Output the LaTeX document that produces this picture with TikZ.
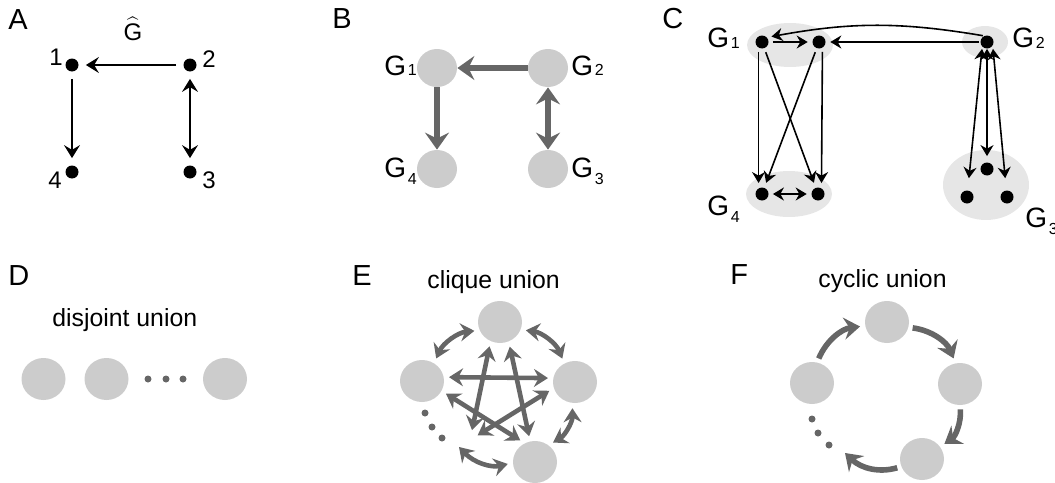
\documentclass[tikz,border=0pt]{standalone}
\usepackage{fontspec}
\setmainfont{Liberation Sans}
\usetikzlibrary{arrows.meta,shapes.geometric}
\definecolor{blobgray}{HTML}{CCCCCC}
\definecolor{palegray}{HTML}{E6E6E6}
\definecolor{arrowgray}{HTML}{666666}
\newcommand{\gsub}[2][0.5pt]{G\kern0.8pt\raisebox{-#1}{\fontsize{8}{9}\selectfont#2}}
\tikzset{
  panel/.style={anchor=base west,inner sep=0pt,font=\fontsize{14.5}{16}\selectfont},
  title/.style={anchor=base west,inner sep=0pt,font=\fontsize{12.4}{14}\selectfont},
  lab/.style={anchor=base,inner sep=0pt,font=\fontsize{12}{14}\selectfont},
  glabel/.style={anchor=base west,inner sep=0pt,font=\fontsize{14}{16}\selectfont},
  dot/.style={circle,fill=black,inner sep=0pt,minimum size=6.5pt},
  smalldot/.style={circle,fill=arrowgray,inner sep=0pt,minimum size=3.5pt},
  blob/.style={ellipse,fill=blobgray,inner sep=0pt,minimum width=22pt,minimum height=21pt},
  bblob/.style={ellipse,fill=blobgray,inner sep=0pt,minimum width=20pt,minimum height=19pt},
  paleblob/.style={ellipse,fill=palegray,inner sep=0pt},
  tharrow/.style={line width=0.8pt,shorten <=3.5pt,shorten >=3.5pt,>={Stealth[length=6.5pt,width=8pt,inset=2.4pt]}},
  carrow/.style={line width=0.8pt,shorten <=2pt,shorten >=2.2pt,>={Stealth[length=5.5pt,width=6.5pt,inset=1.8pt]}},
  bigarrow/.style={line width=3pt,draw=arrowgray,>={Stealth[length=8.5pt,width=12pt,inset=3pt]}},
  starrow/.style={line width=2.3pt,draw=arrowgray,shorten <=2.5pt,shorten >=2.5pt,>={Stealth[length=7pt,width=9pt,inset=2.4pt]}},
  cycarrow/.style={line width=2.8pt,draw=arrowgray,shorten <=2pt,shorten >=2.5pt,>={Stealth[length=8pt,width=11pt,inset=2.8pt]}}
}
\begin{document}
\begin{tikzpicture}[x=0.5pt,y=-0.5pt]
\useasboundingbox (0,0) rectangle (1055,482);

\node[panel] (pa) at (8,29) {A};
\node[dot] (a1) at (72,65) {};
\node[dot] (a2) at (190,65) {};
\node[dot] (a3) at (190,172) {};
\node[dot] (a4) at (72,172) {};
\node[lab] (ghat) at (133,40) {$\widehat{\mbox{G}}$};
\node[lab] (n1) at (56,65) {1};
\node[lab] (n2) at (209,67) {2};
\node[lab] (n3) at (209,188) {3};
\node[lab] (n4) at (55,188) {4};
\draw[tharrow,->] (a2) -- (a1);
\draw[tharrow,->] (a1) -- (a4);
\draw[tharrow,<->] (a2) -- (a3);

\node[panel] (pb) at (332,28) {B};
\node[bblob] (b1) at (437,68) {};
\node[bblob] (b2) at (548,68) {};
\node[bblob] (b3) at (548,169) {};
\node[bblob] (b4) at (437,169) {};
\node[glabel] (gb1) at (384,75) {\gsub{1}};
\node[glabel] (gb2) at (571,75) {\gsub{2}};
\node[glabel] (gb3) at (571,177) {\gsub[3.5pt]{3}};
\node[glabel] (gb4) at (384,177) {\gsub[3.5pt]{4}};
\draw[bigarrow,->] (b2) -- (b1);
\draw[bigarrow,->] (b1) -- (b4);
\draw[bigarrow,<->] (b2) -- (b3);

\node[panel] (pc) at (662,28) {C};
\node[paleblob,minimum width=43pt,minimum height=22pt] (c1) at (790,45) {};
\node[paleblob,minimum width=23pt,minimum height=16pt] (c2) at (985,42) {};
\node[paleblob,minimum width=43pt,minimum height=35pt] (c3) at (986,185) {};
\node[paleblob,minimum width=43pt,minimum height=23pt] (c4) at (789,194) {};
\node[dot] (c1a) at (762,42) {};
\node[dot] (c1b) at (819,42) {};
\node[dot] (c2a) at (987,42) {};
\node[dot] (c3t) at (987,169) {};
\node[dot] (c3a) at (967,197) {};
\node[dot] (c3b) at (1007,197) {};
\node[dot] (c4a) at (762,194) {};
\node[dot] (c4b) at (818,194) {};
\node[glabel] (gc1) at (707,47) {\gsub{1}};
\node[glabel] (gc2) at (1012,47) {\gsub{2}};
\node[glabel] (gc3) at (1025,227) {\gsub[3.5pt]{3}};
\node[glabel] (gc4) at (707,215) {\gsub[3.5pt]{4}};
\draw[carrow,->] (c1a) -- (c1b);
\draw[carrow,->,shorten <=0.5pt] (c2a) -- (c1b);
\draw[carrow,->,shorten <=0.5pt] (c2a.117) to[bend right=10] (c1a.42);
\draw[carrow,->,shorten >=2.5pt] (c1a.240) -- (c4a.120);
\draw[carrow,->,shorten >=2.5pt] (c1a.290) -- (c4b.110);
\draw[carrow,->,shorten >=2.5pt] (c1b.250) -- (c4a.70);
\draw[carrow,->,shorten >=2.5pt] (c1b.300) -- (c4b.60);
\draw[carrow,<->] (c4a) -- (c4b);
\draw[carrow,<->,shorten <=0pt,shorten >=6pt] ([xshift=-2.5pt]c2a.south) -- (c3a);
\draw[carrow,<->,shorten <=0pt,shorten >=3pt] (c2a.south) -- (c3t);
\draw[carrow,<->,shorten <=0pt,shorten >=6pt] ([xshift=3pt]c2a.south) -- (c3b);

\node[panel] (pd) at (8,285) {D};
\node[title] (td) at (52,326) {disjoint union};
\node[blob] (d1) at (43.5,379) {};
\node[blob] (d2) at (106.5,379) {};
\node[blob] (d3) at (225,379) {};
\node[smalldot] (dd1) at (148,379) {};
\node[smalldot] (dd2) at (166,379) {};
\node[smalldot] (dd3) at (183,379) {};

\node[panel] (pe) at (352,285) {E};
\node[title] (te) at (427,288) {clique union};
\node[blob] (et) at (500,322) {};
\node[blob] (el) at (422,381) {};
\node[blob] (er) at (575,382) {};
\node[blob] (ebr) at (535,462) {};
\coordinate (ebl) at (470,440);
\coordinate (earc) at (459,447);
\node[smalldot] (ed1) at (425,413) {};
\node[smalldot] (ed2) at (432,427) {};
\node[smalldot] (ed3) at (442,438) {};
\draw[starrow,<->] (el.10) -- (er.170);
\draw[starrow,<->] (et.294) -- (ebr.103);
\draw[starrow,<->] (el.333) -- (ebr.119);
\draw[starrow,<->,shorten >=5pt] (et.244) -- (ebl);
\draw[starrow,<->,shorten >=4.5pt] (er.196) -- (ebl);
\draw[starrow,<->] (et.202) to[bend right=30] (el.56);
\draw[starrow,<->] (et.340) to[bend left=30] (er.120);
\draw[starrow,<->] (er.263) to[bend left=30] (ebr.51);
\draw[starrow,<->,shorten <=0pt] (earc) to[bend right=30] (ebr.182);

\node[panel] (pf) at (730,284) {F};
\node[title] (tf) at (818,287) {cyclic union};
\node[blob] (ft) at (887,322) {};
\node[blob] (fl) at (812,383) {};
\node[blob] (fr) at (960,384) {};
\node[blob] (fbr) at (922,459) {};
\coordinate (fend) at (845,453);
\node[smalldot] (fd1) at (812,419) {};
\node[smalldot] (fd2) at (818,433) {};
\node[smalldot] (fd3) at (829,445) {};
\draw[cycarrow,->] (fl.76) to[bend left=30] (ft.190);
\draw[cycarrow,->] (ft.346) to[bend left=30] (fr.102);
\draw[cycarrow,->] (fr.270) to[bend left=30] (fbr.34);
\draw[cycarrow,->,shorten >=0pt] (fbr.200) to[bend left=30] (fend);
\end{tikzpicture}
\end{document}
